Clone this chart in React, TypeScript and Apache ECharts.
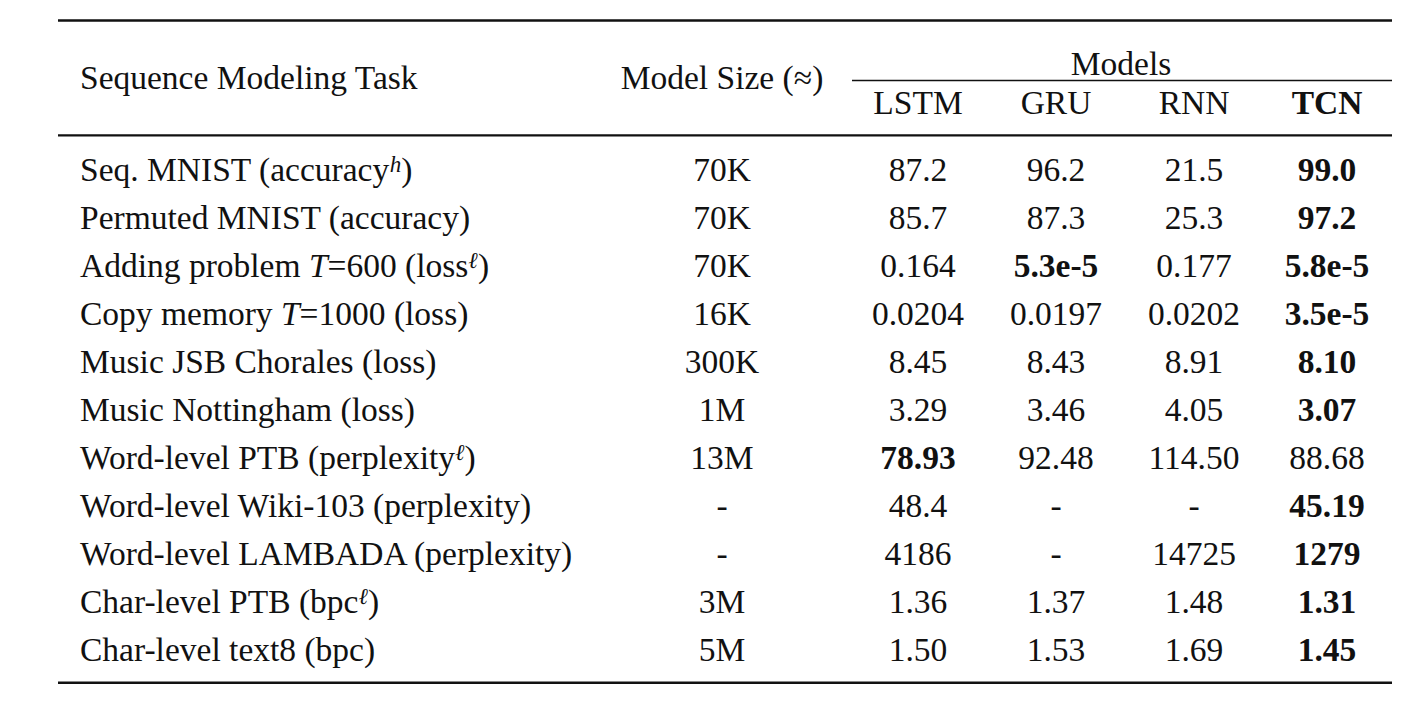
import React, { useEffect, useRef } from "react";
import * as echarts from "echarts";

// ---- data ----
const modelNames = ["LSTM", "GRU", "RNN", "TCN"];
const tasks = [
  "Seq. MNIST (accuracy{sup|h})",
  "Permuted MNIST (accuracy)",
  "Adding problem {it|T}=600 (loss{sup|ℓ})",
  "Copy memory {it|T}=1000 (loss)",
  "Music JSB Chorales (loss)",
  "Music Nottingham (loss)",
  "Word-level PTB (perplexity{sup|ℓ})",
  "Word-level Wiki-103 (perplexity)",
  "Word-level LAMBADA (perplexity)",
  "Char-level PTB (bpc{sup|ℓ})",
  "Char-level text8 (bpc)",
];
const modelSizes = ["70K", "70K", "70K", "16K", "300K", "1M", "13M", "-", "-", "3M", "5M"];
const lstmValues = ["87.2", "85.7", "0.164", "0.0204", "8.45", "3.29", "78.93", "48.4", "4186", "1.36", "1.50"];
const gruValues = ["96.2", "87.3", "5.3e-5", "0.0197", "8.43", "3.46", "92.48", "-", "-", "1.37", "1.53"];
const rnnValues = ["21.5", "25.3", "0.177", "0.0202", "8.91", "4.05", "114.50", "-", "14725", "1.48", "1.69"];
const tcnValues = ["99.0", "97.2", "5.8e-5", "3.5e-5", "8.10", "3.07", "88.68", "45.19", "1279", "1.31", "1.45"];
const bestModels = [
  ["TCN"], ["TCN"], ["GRU", "TCN"], ["TCN"], ["TCN"], ["TCN"],
  ["LSTM"], ["TCN"], ["TCN"], ["TCN"], ["TCN"],
];

// ---- layout ----
const W = 1425;
const H = 717;
const FONT = '"Liberation Serif", "Times New Roman", Times, serif';
const FS = 33.5;
const COLOR = "#111";
const ruleLeft = 58;
const ruleRight = 1392;
const taskX = 80;
const sizeX = 722;
const modelX = [918, 1056, 1194, 1327];
const rowTop = 169.5;
const rowPitch = 48;

function buildGraphic() {
  const els: any[] = [];
  const rule = (x1: number, x2: number, y: number, w: number) =>
    els.push({
      type: "line",
      shape: { x1, y1: y, x2, y2: y },
      style: { stroke: COLOR, lineWidth: w },
      silent: true,
    });
  const txt = (text: string, x: number, y: number, align: string, bold = false, rich = false) =>
    els.push({
      type: "text",
      x,
      y,
      silent: true,
      style: {
        text,
        x: 0,
        y: 0,
        fill: COLOR,
        font: `${bold ? "bold " : ""}${FS}px ${FONT}`,
        fontFamily: FONT,
        fontSize: FS,
        fontWeight: bold ? "bold" : "normal",
        align,
        verticalAlign: "middle",
        lineHeight: FS,
        ...(rich
          ? {
              rich: {
                sup: {
                  fontFamily: FONT,
                  fontSize: 23,
                  fontStyle: "italic",
                  lineHeight: 16,
                  verticalAlign: "top",
                  fill: COLOR,
                },
                it: {
                  fontFamily: FONT,
                  fontSize: FS,
                  fontStyle: "italic",
                  lineHeight: FS,
                  fill: COLOR,
                },
              },
            }
          : {}),
      },
    });

  rule(ruleLeft, ruleRight, 20.5, 2.6);
  rule(852, ruleRight, 80.5, 1.5);
  rule(ruleLeft, ruleRight, 135.3, 2.2);
  rule(ruleLeft, ruleRight, 682.8, 2.6);

  txt("Sequence Modeling Task", taskX, 77.5, "left");
  txt("Model Size (≈)", sizeX, 77.5, "center");
  txt("Models", 1121, 63.5, "center");
  modelNames.forEach((m, i) => txt(m, modelX[i], 102, "center", m === "TCN"));

  const cols = [lstmValues, gruValues, rnnValues, tcnValues];
  tasks.forEach((t, r) => {
    const y = rowTop + r * rowPitch;
    txt(t, taskX, y, "left", false, true);
    txt(modelSizes[r], sizeX, y, "center");
    cols.forEach((vals, c) => {
      txt(vals[r], modelX[c], y, "center", bestModels[r].includes(modelNames[c]));
    });
  });
  return els;
}

export default function App() {
  const ref = useRef<HTMLDivElement>(null);
  useEffect(() => {
    document.body.style.margin = "0";
    const chart = echarts.init(ref.current!, undefined, { renderer: "svg" });
    chart.setOption({
      animation: false,
      backgroundColor: "#ffffff",
      graphic: buildGraphic(),
    });
    return () => chart.dispose();
  }, []);
  return <div ref={ref} style={{ width: W, height: H }} />;
}
